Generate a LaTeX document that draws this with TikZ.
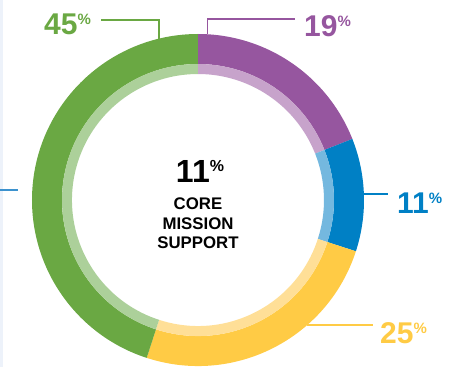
\documentclass[tikz,border=0pt]{standalone}
\usepackage{fontspec}
\setmainfont{Liberation Sans}
\usepackage{tikz}
\usetikzlibrary{positioning}

\definecolor{greendark}{HTML}{6AA843}
\definecolor{greenlight}{HTML}{ACD09A}
\definecolor{purpledark}{HTML}{96569F}
\definecolor{purplelight}{HTML}{C7A3CB}
\definecolor{bluedark}{HTML}{0080C5}
\definecolor{bluelight}{HTML}{74B8DF}
\definecolor{yellowdark}{HTML}{FFCB45}
\definecolor{yellowlight}{HTML}{FFDF97}
\definecolor{stripblue}{HTML}{EDF2FA}
\definecolor{sidebar}{HTML}{3C92CE}

\newcommand{\pct}[1]{{\fontsize{30}{30}\selectfont\bfseries #1\raisebox{10pt}{\fontsize{15}{15}\selectfont\%}}}

\tikzset{
	share/.style={inner sep=0pt, anchor=base west},
	leader/.style={line width=1.2pt}
}

\begin{document}
\begin{tikzpicture}[x=1pt,y=1pt]
			%\draw [help lines] (-198,-167) grid (276,200);
			\useasboundingbox (-198,-167) rectangle (276,200);
			\fill [stripblue] (-198,-167) rectangle (-194.5,200);
			\draw [sidebar, leader] (-198,10) -- (-180,10);
			
			% ring: outer band and inner pale band
			\fill [purpledark] (21.6:166) arc[start angle=21.6, end angle=90, radius=166] -- (90:136) arc[start angle=90, end angle=21.6, radius=136] -- cycle;
			\fill [purplelight] (21.6:136) arc[start angle=21.6, end angle=90, radius=136] -- (90:126) arc[start angle=90, end angle=21.6, radius=126] -- cycle;
			\fill [bluedark] (-18:166) arc[start angle=-18, end angle=21.6, radius=166] -- (21.6:136) arc[start angle=21.6, end angle=-18, radius=136] -- cycle;
			\fill [bluelight] (-18:136) arc[start angle=-18, end angle=21.6, radius=136] -- (21.6:126) arc[start angle=21.6, end angle=-18, radius=126] -- cycle;
			\fill [yellowdark] (-108:166) arc[start angle=-108, end angle=-18, radius=166] -- (-18:136) arc[start angle=-18, end angle=-108, radius=136] -- cycle;
			\fill [yellowlight] (-108:136) arc[start angle=-108, end angle=-18, radius=136] -- (-18:126) arc[start angle=-18, end angle=-108, radius=126] -- cycle;
			\fill [greendark] (90:166) arc[start angle=90, end angle=252, radius=166] -- (252:136) arc[start angle=252, end angle=90, radius=136] -- cycle;
			\fill [greenlight] (90:136) arc[start angle=90, end angle=252, radius=136] -- (252:126) arc[start angle=252, end angle=90, radius=126] -- cycle;
			
			% centre
			\node [inner sep=0pt, anchor=base] (total) at (2,18) {{\fontsize{32}{32}\selectfont\bfseries 11\raisebox{11pt}{\fontsize{16}{16}\selectfont\%}}};
			\node [inner sep=0pt, anchor=north, align=center, font=\fontsize{16.8}{19.5}\selectfont\bfseries] (core) at (0,2) {CORE\\MISSION\\SUPPORT};
			
			% labels
			\node [share, greendark] (green) at (-154,165) {\pct{45}};
			\node [share, purpledark] (purple) at (106,163) {\pct{19}};
			\node [share, bluedark] (blue) at (199,-13) {\pct{11}};
			\node [share, yellowdark] (yellow) at (182,-143) {\pct{25}};
			
			\coordinate (greenring) at (103.6:166);
			\coordinate (purplering) at (86.6:166);
			\coordinate (bluering) at (2.1:166);
			\coordinate (yellowring) at (-48.9:166);
			
			\draw [greendark, leader] ([xshift=10pt]green.east |- 0,180) -| (greenring);
			\draw [purpledark, leader] (purplering) |- ([xshift=-9pt]purple.west |- 0,181);
			\draw [bluedark, leader] (bluering) -- ([xshift=-9pt]blue.west |- bluering);
			\draw [yellowdark, leader] (yellowring) -- ([xshift=-7pt]yellow.west |- yellowring);
	\end{tikzpicture}
\end{document}
